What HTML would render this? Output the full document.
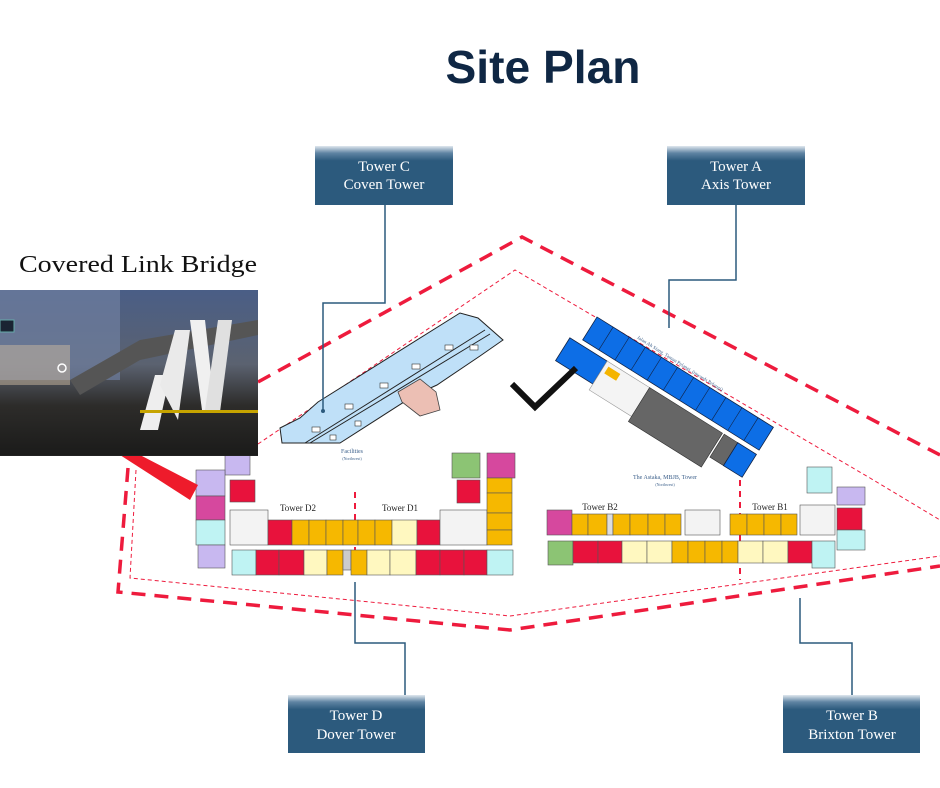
<!DOCTYPE html>
<html><head><meta charset="utf-8"><style>
html,body{margin:0;padding:0;background:#fff;}
svg{display:block;}
.lbl{font-family:"Liberation Serif",serif;font-size:15px;fill:#fff;}
.tn{font-family:"Liberation Serif",serif;font-size:9px;fill:#222;}
.u{stroke:#555;stroke-width:0.6;}
</style></head><body>
<svg width="940" height="788" viewBox="0 0 940 788" xmlns="http://www.w3.org/2000/svg">
<defs>
<linearGradient id="bx" x1="0" y1="0" x2="0" y2="1">
<stop offset="0" stop-color="#dfe7ee"/><stop offset="0.12" stop-color="#5f84a3"/><stop offset="0.25" stop-color="#2c5a7d"/><stop offset="1" stop-color="#2c5a7d"/>
</linearGradient>
<linearGradient id="ph" x1="0" y1="0" x2="0" y2="1">
<stop offset="0" stop-color="#4a5e86"/><stop offset="0.45" stop-color="#5b6270"/><stop offset="0.7" stop-color="#2d2c2a"/><stop offset="1" stop-color="#1b1b1a"/>
</linearGradient>
</defs>

<text x="543" y="83" text-anchor="middle" font-family="Liberation Sans,sans-serif" font-weight="bold" font-size="46" fill="#0f2744" textLength="195" lengthAdjust="spacingAndGlyphs">Site Plan</text>

<!-- dashed site boundaries -->
<polyline points="258,382 522,237 940,455" fill="none" stroke="#ee1b3d" stroke-width="3.5" stroke-dasharray="14,9"/>
<polyline points="128,468 118,592 510,630 940,566" fill="none" stroke="#ee1b3d" stroke-width="3.5" stroke-dasharray="14,9"/>
<polyline points="258,444 515,270 870,478 940,520" fill="none" stroke="#ee1b3d" stroke-width="1" stroke-dasharray="4,3"/>
<polyline points="136,470 130,578 510,616 940,556" fill="none" stroke="#ee1b3d" stroke-width="1" stroke-dasharray="4,3"/>
<line x1="355" y1="492" x2="355" y2="580" stroke="#ee1b3d" stroke-width="2" stroke-dasharray="6,5"/>
<line x1="740" y1="480" x2="740" y2="580" stroke="#ee1b3d" stroke-width="2" stroke-dasharray="6,5"/>

<!-- Tower C building -->
<polygon points="280,428 300,418 318,402 460,313 478,318 503,340 480,356 437,385 415,395 340,443 282,443" fill="#bfe0f8" stroke="#222" stroke-width="1"/>
<line x1="305" y1="443" x2="485" y2="330" stroke="#222" stroke-width="1"/>
<line x1="310" y1="443" x2="490" y2="334" stroke="#222" stroke-width="1"/>
<polygon points="398,392 420,379 436,392 440,410 420,416 402,402" fill="#ecbfb4" stroke="#444" stroke-width="0.8"/>
<g fill="#fff" stroke="#333" stroke-width="0.6">
<rect x="312" y="427" width="8" height="5"/><rect x="345" y="404" width="8" height="5"/><rect x="380" y="383" width="8" height="5"/><rect x="412" y="364" width="8" height="5"/><rect x="445" y="345" width="8" height="5"/><rect x="470" y="345" width="8" height="5"/><rect x="330" y="435" width="6" height="5"/><rect x="355" y="421" width="6" height="5"/>
</g>
<text x="352" y="453" text-anchor="middle" font-family="Liberation Serif,serif" font-size="6" fill="#3b5f8a">Facilities</text>
<text x="352" y="460" text-anchor="middle" font-family="Liberation Serif,serif" font-size="4" fill="#3b5f8a">(Northwest)</text>

<!-- Tower A building -->
<g transform="translate(597,317) rotate(32)">
<rect x="0" y="0" width="208" height="27" fill="#0d6ee6" stroke="#124" stroke-width="0.8"/>
<g stroke="#124" stroke-width="0.6"><line x1="19" y1="0" x2="19" y2="27"/><line x1="38" y1="0" x2="38" y2="27"/><line x1="57" y1="0" x2="57" y2="27"/><line x1="76" y1="0" x2="76" y2="27"/><line x1="95" y1="0" x2="95" y2="27"/><line x1="114" y1="0" x2="114" y2="27"/><line x1="133" y1="0" x2="133" y2="27"/><line x1="152" y1="0" x2="152" y2="27"/><line x1="171" y1="0" x2="171" y2="27"/><line x1="190" y1="0" x2="190" y2="27"/></g>
<rect x="-12" y="32" width="44" height="27" fill="#0d6ee6" stroke="#124" stroke-width="0.8"/>
<rect x="32" y="32" width="50" height="34" fill="#f4f4f4" stroke="#999" stroke-width="0.6"/>
<rect x="36" y="36" width="14" height="8" fill="#f4b400"/>
<rect x="82" y="32" width="86" height="40" fill="#666" stroke="#333" stroke-width="0.6"/>
<rect x="170" y="32" width="16" height="27" fill="#666" stroke="#333" stroke-width="0.6"/>
<rect x="186" y="32" width="22" height="27" fill="#0d6ee6" stroke="#124" stroke-width="0.8"/>
<text x="45" y="-3" font-family="Liberation Serif,serif" font-size="5" fill="#3b5f8a">Jalan Ah Siang, Taman Pelangi, (towards Pelangi)</text>
</g>
<text x="665" y="479" text-anchor="middle" font-family="Liberation Serif,serif" font-size="6" fill="#3b5f8a">The Astaka, MBJB, Tower</text>
<text x="665" y="486" text-anchor="middle" font-family="Liberation Serif,serif" font-size="4" fill="#3b5f8a">(Northwest)</text>

<!-- check mark -->
<polyline points="512,384 535,407 576,368" fill="none" stroke="#111" stroke-width="6"/>

<!-- Tower D -->
<g class="u">
<rect x="225" y="453" width="25" height="22" fill="#c8b8f0"/>
<rect x="196" y="470" width="29" height="26" fill="#c8b8f0"/>
<rect x="196" y="496" width="29" height="24" fill="#d6489e"/>
<rect x="196" y="520" width="29" height="25" fill="#bff3f3"/>
<rect x="198" y="545" width="27" height="23" fill="#c8b8f0"/>
<rect x="230" y="480" width="25" height="22" fill="#e8123c"/>
<rect x="230" y="510" width="38" height="35" fill="#f3f3f3"/>
<rect x="268" y="520" width="24" height="25" fill="#e8123c"/>
<rect x="292" y="520" width="17" height="25" fill="#f6b800"/>
<rect x="309" y="520" width="17" height="25" fill="#f6b800"/>
<rect x="326" y="520" width="17" height="25" fill="#f6b800"/>
<rect x="343" y="520" width="15" height="25" fill="#f6b800"/>
<rect x="358" y="520" width="17" height="25" fill="#f6b800"/>
<rect x="375" y="520" width="17" height="25" fill="#f6b800"/>
<rect x="392" y="520" width="25" height="25" fill="#fff8c0"/>
<rect x="417" y="520" width="23" height="25" fill="#e8123c"/>
<rect x="440" y="510" width="47" height="35" fill="#f3f3f3"/>
<rect x="232" y="550" width="24" height="25" fill="#bff3f3"/>
<rect x="256" y="550" width="23" height="25" fill="#e8123c"/>
<rect x="279" y="550" width="25" height="25" fill="#e8123c"/>
<rect x="304" y="550" width="23" height="25" fill="#fff8c0"/>
<rect x="327" y="550" width="16" height="25" fill="#f6b800"/>
<rect x="343" y="550" width="8" height="20" fill="#ccc"/>
<rect x="351" y="550" width="16" height="25" fill="#f6b800"/>
<rect x="367" y="550" width="23" height="25" fill="#fff8c0"/>
<rect x="390" y="550" width="26" height="25" fill="#fff8c0"/>
<rect x="416" y="550" width="24" height="25" fill="#e8123c"/>
<rect x="440" y="550" width="24" height="25" fill="#e8123c"/>
<rect x="464" y="550" width="23" height="25" fill="#e8123c"/>
<rect x="487" y="550" width="26" height="25" fill="#bff3f3"/>
<rect x="452" y="453" width="28" height="25" fill="#8cc474"/>
<rect x="487" y="453" width="28" height="25" fill="#d6489e"/>
<rect x="457" y="480" width="23" height="23" fill="#e8123c"/>
<rect x="487" y="478" width="25" height="15" fill="#f6b800"/>
<rect x="487" y="493" width="25" height="20" fill="#f6b800"/>
<rect x="487" y="513" width="25" height="17" fill="#f6b800"/>
<rect x="487" y="530" width="25" height="15" fill="#f6b800"/>
</g>
<text x="298" y="511" text-anchor="middle" class="tn">Tower D2</text>
<text x="400" y="511" text-anchor="middle" class="tn">Tower D1</text>

<!-- Tower B -->
<g class="u">
<rect x="547" y="510" width="25" height="25" fill="#d6489e"/>
<rect x="572" y="514" width="16" height="21" fill="#f6b800"/>
<rect x="588" y="514" width="19" height="21" fill="#f6b800"/>
<rect x="607" y="514" width="6" height="21" fill="#ddd"/>
<rect x="613" y="514" width="17" height="21" fill="#f6b800"/>
<rect x="630" y="514" width="18" height="21" fill="#f6b800"/>
<rect x="648" y="514" width="17" height="21" fill="#f6b800"/>
<rect x="665" y="514" width="16" height="21" fill="#f6b800"/>
<rect x="685" y="510" width="35" height="25" fill="#f3f3f3"/>
<rect x="730" y="514" width="17" height="21" fill="#f6b800"/>
<rect x="747" y="514" width="17" height="21" fill="#f6b800"/>
<rect x="764" y="514" width="17" height="21" fill="#f6b800"/>
<rect x="781" y="514" width="16" height="21" fill="#f6b800"/>
<rect x="800" y="505" width="35" height="30" fill="#f3f3f3"/>
<rect x="548" y="541" width="25" height="24" fill="#8cc474"/>
<rect x="573" y="541" width="25" height="22" fill="#e8123c"/>
<rect x="598" y="541" width="24" height="22" fill="#e8123c"/>
<rect x="622" y="541" width="25" height="22" fill="#fff8c0"/>
<rect x="647" y="541" width="25" height="22" fill="#fff8c0"/>
<rect x="672" y="541" width="16" height="22" fill="#f6b800"/>
<rect x="688" y="541" width="17" height="22" fill="#f6b800"/>
<rect x="705" y="541" width="17" height="22" fill="#f6b800"/>
<rect x="722" y="541" width="16" height="22" fill="#f6b800"/>
<rect x="738" y="541" width="25" height="22" fill="#fff8c0"/>
<rect x="763" y="541" width="25" height="22" fill="#fff8c0"/>
<rect x="788" y="541" width="24" height="22" fill="#e8123c"/>
<rect x="812" y="541" width="23" height="27" fill="#bff3f3"/>
<rect x="807" y="467" width="25" height="26" fill="#bff3f3"/>
<rect x="837" y="487" width="28" height="18" fill="#c8b8f0"/>
<rect x="837" y="508" width="25" height="22" fill="#e8123c"/>
<rect x="837" y="530" width="28" height="20" fill="#bff3f3"/>
</g>
<text x="600" y="510" text-anchor="middle" class="tn">Tower B2</text>
<text x="770" y="510" text-anchor="middle" class="tn">Tower B1</text>

<!-- photo -->
<text x="138" y="272" text-anchor="middle" font-family="Liberation Serif,serif" font-size="24" fill="#111" textLength="238" lengthAdjust="spacingAndGlyphs">Covered Link Bridge</text>
<polygon points="120,455 140,455 198,485 190,500" fill="#ee1b2b"/>
<rect x="0" y="290" width="258" height="165" fill="url(#ph)"/>
<rect x="0" y="290" width="120" height="90" fill="#6f7fa0" opacity="0.7"/>
<rect x="0" y="345" width="70" height="40" fill="#c9b8a0" opacity="0.5"/>
<polygon points="70,380 140,340 258,320 258,335 140,360 80,395" fill="#555"/>
<polygon points="140,430 155,375 170,375 158,430" fill="#eee"/>
<polygon points="160,385 175,330 190,330 178,420" fill="#eaeaea"/>
<polygon points="190,320 205,320 215,410 202,410" fill="#f0f0f0"/>
<polygon points="205,410 218,320 232,320 220,412" fill="#e0e0e0"/>
<rect x="140" y="410" width="118" height="3" fill="#c6a400"/>
<rect x="0" y="455" width="258" height="1" fill="#222"/>
<circle cx="62" cy="368" r="4" fill="none" stroke="#fff" stroke-width="1.5"/>
<rect x="0" y="320" width="14" height="12" fill="#1a2433" stroke="#6aa" stroke-width="1"/>

<!-- connectors -->
<g fill="none" stroke="#2c5a7d" stroke-width="1.5">
<polyline points="385,205 385,303 323,303 323,410"/>
<polyline points="736,205 736,280 669,280 669,328"/>
<polyline points="355,582 355,643 405,643 405,695"/>
<polyline points="800,598 800,643 852,643 852,695"/>
</g>
<circle cx="323" cy="411" r="2" fill="#2c5a7d"/>

<!-- label boxes -->
<rect x="315" y="146" width="138" height="59" fill="url(#bx)"/>
<text x="384" y="171" text-anchor="middle" class="lbl">Tower C</text>
<text x="384" y="189" text-anchor="middle" class="lbl">Coven Tower</text>
<rect x="667" y="146" width="138" height="59" fill="url(#bx)"/>
<text x="736" y="171" text-anchor="middle" class="lbl">Tower A</text>
<text x="736" y="189" text-anchor="middle" class="lbl">Axis Tower</text>
<rect x="288" y="695" width="137" height="58" fill="url(#bx)"/>
<text x="356" y="720" text-anchor="middle" class="lbl">Tower D</text>
<text x="356" y="739" text-anchor="middle" class="lbl">Dover Tower</text>
<rect x="783" y="695" width="137" height="58" fill="url(#bx)"/>
<text x="852" y="720" text-anchor="middle" class="lbl">Tower B</text>
<text x="852" y="739" text-anchor="middle" class="lbl">Brixton Tower</text>
</svg>
</body></html>
